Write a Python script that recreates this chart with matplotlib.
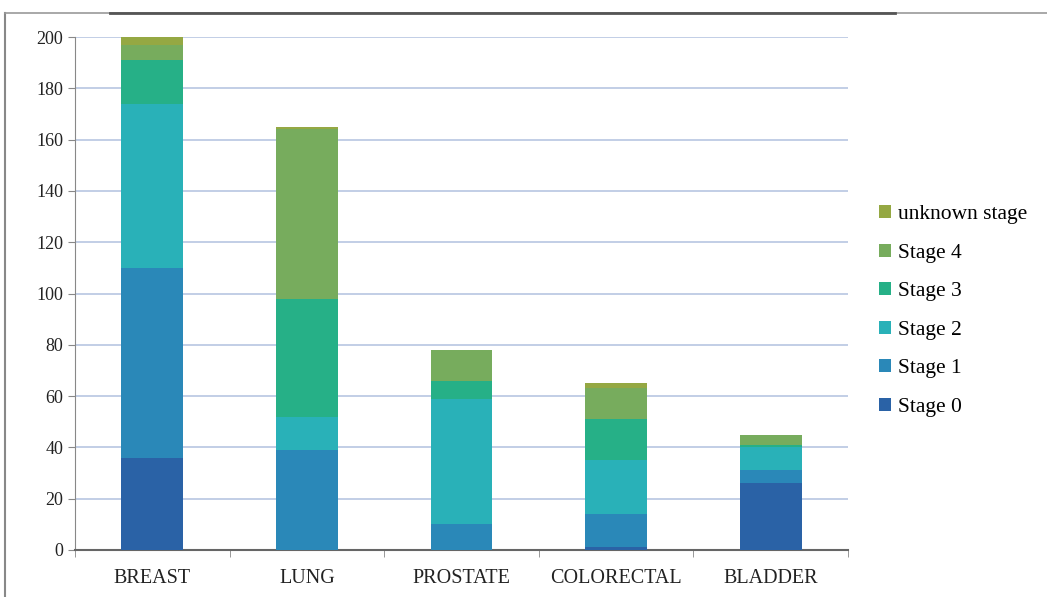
import numpy as np
import matplotlib.pyplot as plt
from matplotlib.lines import Line2D

categories = ['BREAST', 'LUNG', 'PROSTATE', 'COLORECTAL', 'BLADDER']
stage0 = [36, 0, 0, 1, 26]
stage1 = [74, 39, 10, 13, 5]
stage2 = [64, 13, 49, 21, 9]
stage3 = [17, 46, 7, 16, 1]
stage4 = [6, 66, 12, 12, 4]
unknown = [3, 1, 0, 2, 0]

series = [('Stage 0', stage0, '#2A62A6'),
          ('Stage 1', stage1, '#2A88B8'),
          ('Stage 2', stage2, '#29B1B8'),
          ('Stage 3', stage3, '#26B087'),
          ('Stage 4', stage4, '#77AC5D'),
          ('unknown stage', unknown, '#95A843')]

plt.rcParams['font.family'] = ['Liberation Serif', 'DejaVu Serif']

fig = plt.figure(figsize=(10.47, 5.97), dpi=100)
ax = fig.add_axes([75/1047, 1-550/597, (848-75)/1047, (550-37)/597])

x = np.arange(len(categories))
bottom = np.zeros(len(categories))
for name, vals, col in series:
    ax.bar(x, vals, 0.4, bottom=bottom, color=col, label=name, zorder=3)
    bottom += np.array(vals)

ax.set_xlim(-0.5, len(categories) - 0.5)
ax.set_ylim(0, 200)
ax.set_yticks(range(0, 201, 20))
ax.set_xticks(x)
ax.set_xticklabels(categories, fontsize=14.5, color='#222222')
ax.tick_params(axis='y', labelsize=13, colors='#222222', length=5, color='#888888')
ax.tick_params(axis='x', length=0, pad=14)
# tick marks between categories
ax.set_xticks(np.arange(-0.5, len(categories), 1), minor=True)
ax.tick_params(axis='x', which='minor', length=5, color='#888888')
ax.grid(axis='y', color='#B8C6E2', linewidth=1.2, zorder=0)
for s in ['top', 'right']:
    ax.spines[s].set_visible(False)
ax.spines['left'].set_color('#888888')
ax.spines['bottom'].set_color('#666666')
ax.spines['bottom'].set_linewidth(1.5)

h, l = ax.get_legend_handles_labels()
leg = fig.legend(h[::-1], l[::-1], loc='upper left', bbox_to_anchor=(860/1047, 1-186/597),
                 frameon=False, fontsize=15.5, handlelength=0.55, handleheight=0.55,
                 handletextpad=0.3, labelspacing=0.9)

# outer frame
fig.add_artist(Line2D([5/1047, 5/1047], [0, 1-13/597], color='#888888', lw=1.5))
fig.add_artist(Line2D([5/1047, 1], [1-13/597, 1-13/597], color='#999999', lw=1.2))
fig.add_artist(Line2D([110/1047, 895/1047], [1-13/597, 1-13/597], color='#555555', lw=2))

fig.savefig('out.png', dpi=100)
